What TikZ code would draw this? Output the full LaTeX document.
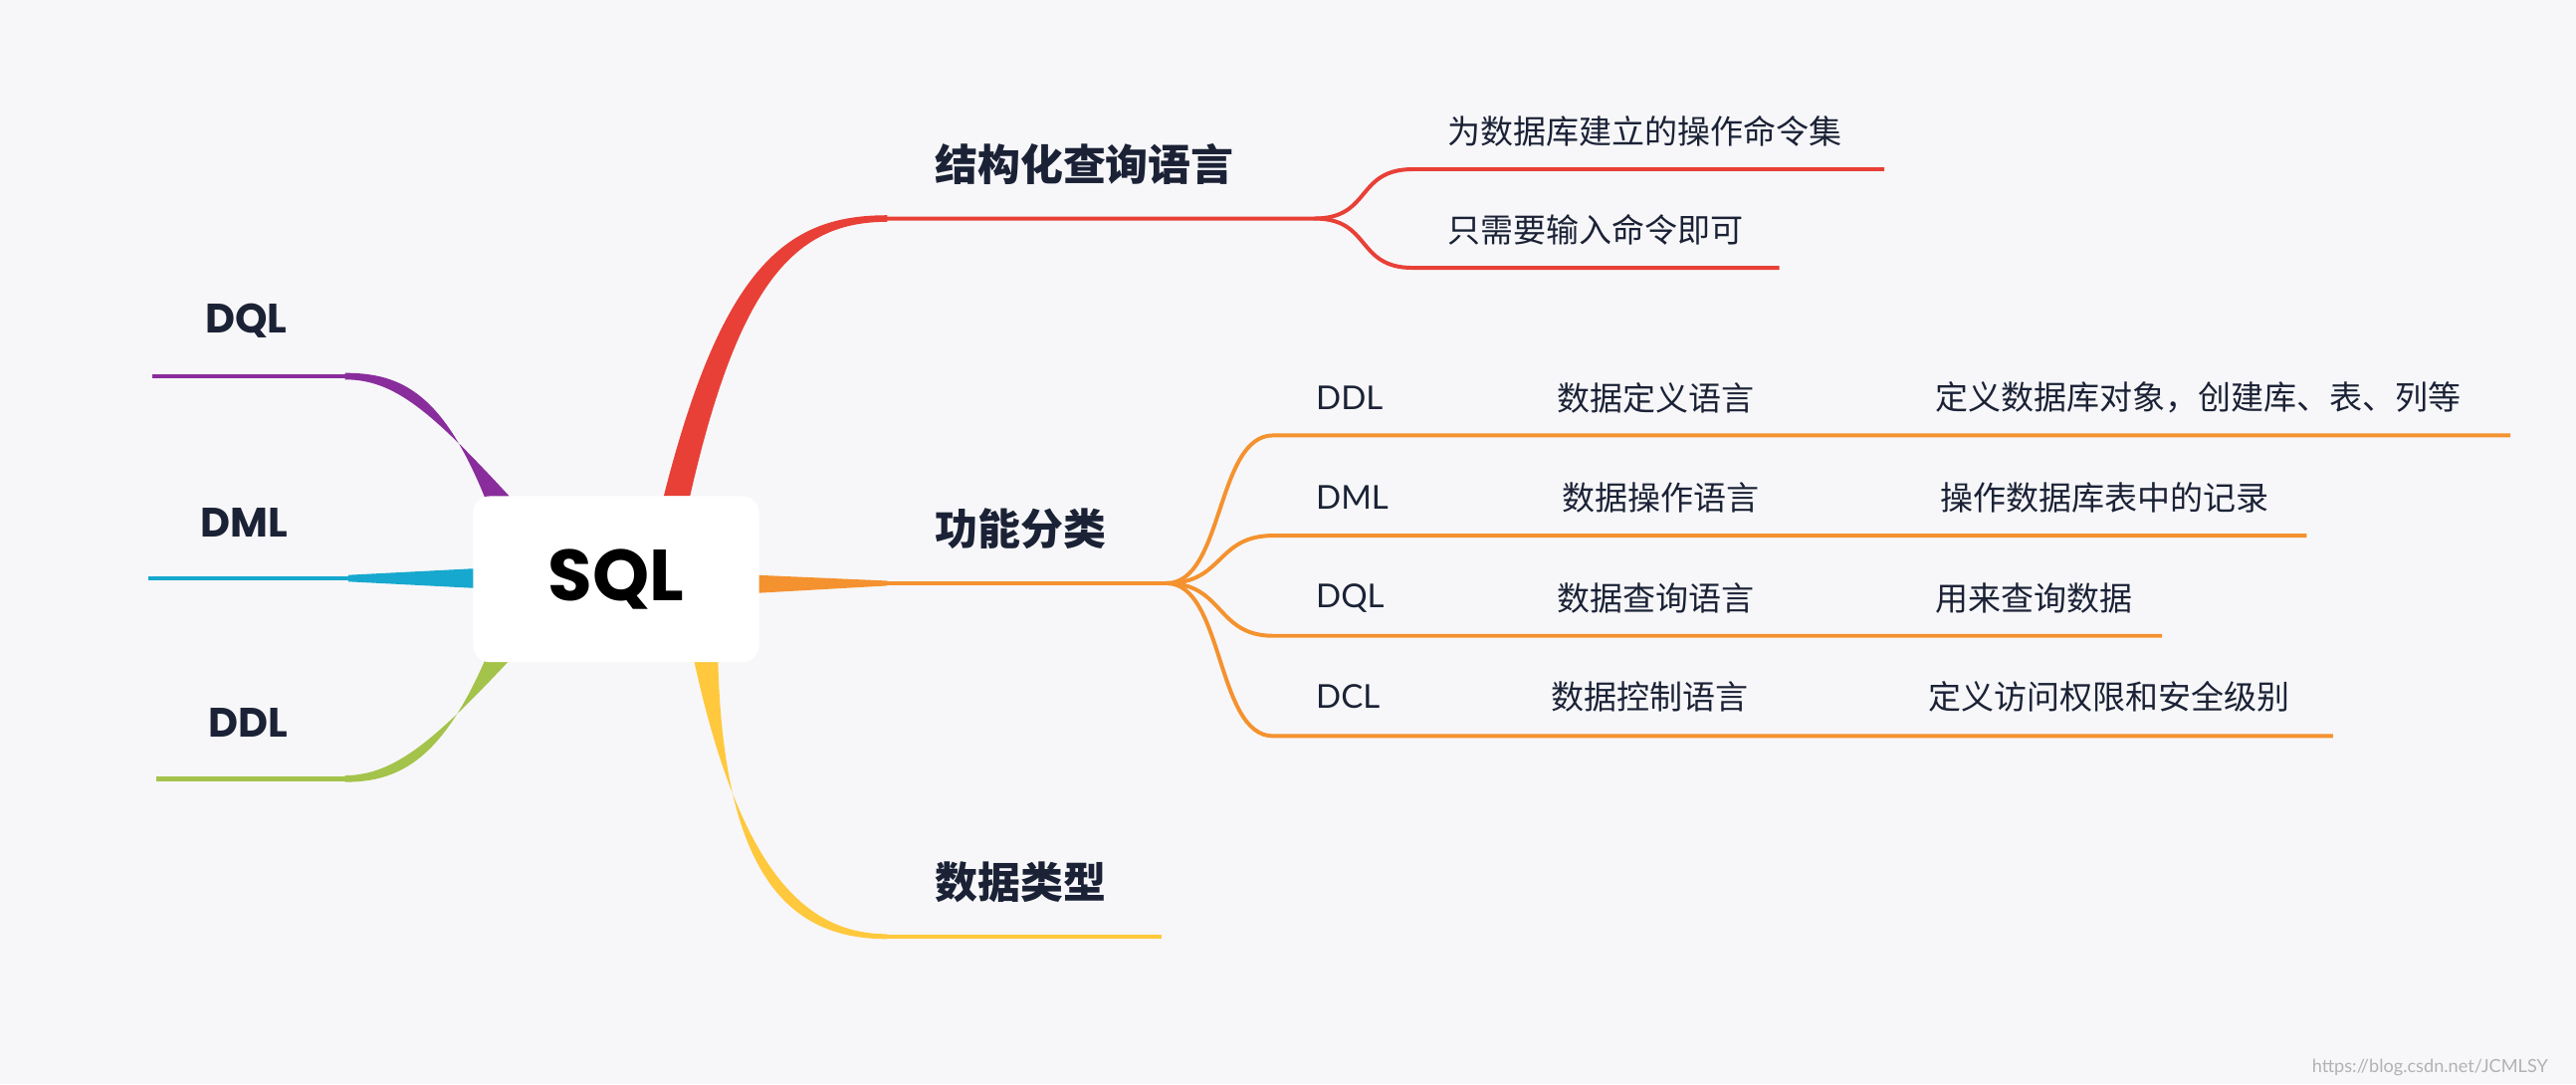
\documentclass[tikz,border=0pt]{standalone}
\usepackage{fontspec}
\setmainfont{Noto Sans CJK SC}
\newfontfamily\lat{Poppins}
\newfontfamily\latr{Lato}
\begin{document}
\begin{tikzpicture}[x=0.5pt,y=-0.5pt,
  head/.style={anchor=west,text=txt,font=\fontsize{13}{15}\selectfont\bfseries},
  lhead/.style={anchor=west,text=txt,font=\lat\fontsize{12.5}{15}\selectfont\bfseries},
  sub/.style={anchor=west,text=txt,font=\fontsize{10}{12}\selectfont},
  subl/.style={anchor=west,text=txt,font=\latr\fontsize{10}{12}\selectfont},
  thin/.style={line width=1.2pt}]
\definecolor{bg}{HTML}{F7F7F9}\definecolor{txt}{HTML}{1B2236}
\definecolor{cr}{HTML}{E84037}\definecolor{co}{HTML}{F4922F}
\definecolor{cy}{HTML}{FFC83D}\definecolor{cp}{HTML}{8A2D9C}
\definecolor{cc}{HTML}{16A8CF}\definecolor{cg}{HTML}{A4C34A}
\fill[bg] (0,0) rectangle (1568,660);
\useasboundingbox (0,0) rectangle (1568,660);
% red
\fill[cr] (404,302) .. controls (440,160) and (480,131) .. (540,131) -- (540,135) .. controls (485,135) and (450,170) .. (420,302) -- cycle;
\coordinate (r0) at (538,133); \coordinate (r1) at (800,133);
\coordinate (r2) at (1147,103); \coordinate (r3) at (1083,163);
\draw[cr,thin] (r0) -- (r1) .. controls (835,133) and (825,103) .. (860,103) -- (r2);
\draw[cr,thin] (r1) .. controls (835,133) and (825,163) .. (860,163) -- (r3);
% orange
\fill[co] (460,350) -- (540,353.5) -- (540,356.5) -- (460,361) -- cycle;
\coordinate (o0) at (538,355); \coordinate (o1) at (710,355);
\draw[co,thin] (o0) -- (o1);
\foreach \y/\e in {265/1528,326/1404,387/1316,448/1420}{
  \draw[co,thin] (o1) .. controls (745,355) and (740,\y) .. (775,\y) -- (\e,\y);}
% yellow
\fill[cy] (422,400) .. controls (450,530) and (490,568.5) .. (540,568.5) -- (540,571.5) .. controls (485,571.5) and (440,540) .. (437,400) -- cycle;
\coordinate (y0) at (538,570); \coordinate (y1) at (707,570);
\draw[cy,thin] (y0) -- (y1);
% left
\fill[cp] (296,305) .. controls (270,240) and (245,227) .. (210,227) -- (210,231) .. controls (240,231) and (262,250) .. (310,302) -- cycle;
\coordinate (p0) at (212,229); \coordinate (p1) at (93,229);
\draw[cp,line width=1.4pt] (p0) -- (p1);
\fill[cc] (290,346) -- (212,350) -- (212,354) -- (290,358) -- cycle;
\coordinate (c0) at (214,352); \coordinate (c1) at (90,352);
\draw[cc,line width=1.4pt] (c0) -- (c1);
\fill[cg] (296,400) .. controls (270,460) and (245,476) .. (210,476) -- (210,472) .. controls (240,472) and (265,450) .. (310,402) -- cycle;
\coordinate (g0) at (212,474); \coordinate (g1) at (95,474);
\draw[cg,line width=1.4pt] (g0) -- (g1);
% center
\node[fill=white,rounded corners=5pt,minimum width=87pt,minimum height=50.5pt,text=black,font=\lat\fontsize{22}{26}\selectfont\bfseries] (sql) at (375,352.5) {SQL};
% texts
\node[head] (h1) at (562,100) {结构化查询语言};
\node[sub] (s1) at (874,80) {为数据库建立的操作命令集};
\node[sub] (s2) at (874,140) {只需要输入命令即可};
\node[head] (h2) at (562,322) {功能分类};
\node[head] (h3) at (562,537) {数据类型};
\node[subl] (a1) at (794,242) {DDL};
\node[sub] (b1) at (941,242) {数据定义语言};
\node[sub] (c1t) at (1171,242) {定义数据库对象，创建库、表、列等};
\node[subl] (a2) at (794,303) {DML};
\node[sub] (b2) at (944,303) {数据操作语言};
\node[sub] (c2t) at (1174,303) {操作数据库表中的记录};
\node[subl] (a3) at (794,364) {DQL};
\node[sub] (b3) at (941,364) {数据查询语言};
\node[sub] (c3t) at (1171,364) {用来查询数据};
\node[subl] (a4) at (794,424) {DCL};
\node[sub] (b4) at (937,424) {数据控制语言};
\node[sub] (c4t) at (1167,424) {定义访问权限和安全级别};
\node[lhead] (l1) at (118,195) {DQL};
\node[lhead] (l2) at (115,318) {DML};
\node[lhead] (l3) at (120,440) {DDL};
\node[anchor=east,text=gray!60,font=\latr\fontsize{5.5}{7}\selectfont] (wm) at (1558,650) {https://blog.csdn.net/JCMLSY};
\end{tikzpicture}
\end{document}
